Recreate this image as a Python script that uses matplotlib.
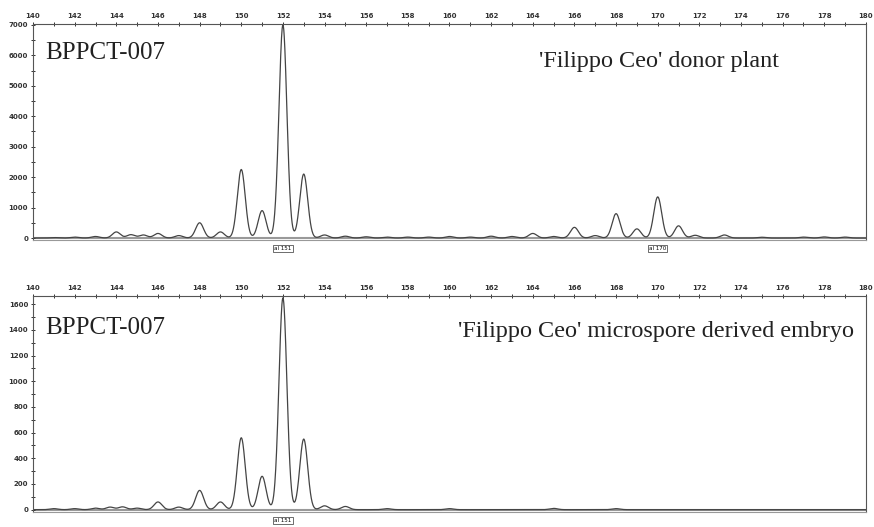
import numpy as np
import matplotlib.pyplot as plt
from matplotlib.ticker import MultipleLocator

# peak positions (bp) and heights (RFU)
donor_pos = [141.0, 142.0, 143.0, 144.0, 144.7, 145.3, 146.0, 147.0, 148.0, 149.0,
             150.0, 151.0, 152.0, 153.0, 154.0, 155.0, 156.0, 157.0, 158.0, 159.0,
             160.0, 161.0, 162.0, 163.0, 164.0, 165.0, 166.0, 167.0, 168.0, 169.0,
             170.0, 171.0, 171.8, 173.2, 175.0, 177.0, 178.0, 179.0]
donor_h = [15, 30, 50, 200, 110, 100, 150, 80, 500, 200,
           2250, 900, 7000, 2100, 100, 60, 40, 30, 30, 30,
           50, 30, 60, 50, 150, 50, 350, 80, 800, 300,
           1350, 400, 90, 100, 25, 30, 35, 30]

embryo_pos = [141.0, 142.0, 143.0, 143.7, 144.3, 145.0, 146.0, 147.0, 148.0, 149.0,
              150.0, 151.0, 152.0, 153.0, 154.0, 155.0, 157.0, 160.0, 165.0, 168.0]
embryo_h = [8, 8, 12, 20, 22, 12, 60, 20, 150, 60,
            560, 260, 1650, 550, 30, 25, 8, 8, 10, 8]

allele_donor = [152, 170]
allele_embryo = [152]

x = np.linspace(140, 180, 4000)


def trace(pos, h, w=0.19):
    y = np.zeros_like(x)
    for p, a in zip(pos, h):
        y += a * np.exp(-0.5 * ((x - p) / w) ** 2)
    return y


fig = plt.figure(figsize=(8.74, 5.27), dpi=100)

panels = [
    (0.5446, donor_pos, donor_h, (-65, 7030), 1000, 500, allele_donor,
     "'Filippo Ceo' donor plant", 0.608, 0.866, 0.824),
    (0.0285, embryo_pos, embryo_h, (-18, 1665), 200, 100, allele_embryo,
     "'Filippo Ceo' microspore derived embryo", 0.51, 0.85, 0.833),
]

for bottom, pos, h, ylim, major, minor, alleles, label, lx, ty, ly in panels:
    ax = fig.add_axes([0.0378, bottom, 0.953, 0.41])
    ax.plot(x, trace(pos, h), color='#444444', lw=0.9)
    ax.axhline(0, color='#999999', lw=1.5, zorder=0)
    ax.set_xlim(140, 180)
    ax.set_ylim(*ylim)
    ax.xaxis.tick_top()
    ax.xaxis.set_major_locator(MultipleLocator(2))
    ax.xaxis.set_minor_locator(MultipleLocator(1))
    ax.yaxis.set_major_locator(MultipleLocator(major))
    ax.yaxis.set_minor_locator(MultipleLocator(minor))
    ax.tick_params(which='both', direction='inout', length=3, width=0.7,
                   labelsize=5, pad=2, colors='#333333')
    for t in ax.get_xticklabels() + ax.get_yticklabels():
        t.set_fontweight('bold')
    for s in ax.spines.values():
        s.set_color('#555555')
        s.set_linewidth(0.8)
    ax.spines['bottom'].set_color('#999999')

    ax.text(0.015, ty, 'BPPCT-007', transform=ax.transAxes, fontsize=18,
            family='Liberation Serif', va='center', ha='left', color='#222222')
    ax.text(lx, ly, label, transform=ax.transAxes, fontsize=17.4,
            family='Liberation Serif', va='center', ha='left', color='#222222')

    for a in alleles:
        ax.annotate('al %d' % (151 if a == 152 else a), xy=(a, 0),
                    xycoords=('data', 'axes fraction'), xytext=(0, -6),
                    textcoords='offset points', ha='center', va='center',
                    fontsize=4, annotation_clip=False,
                    bbox=dict(boxstyle='square,pad=0.2', fc='white',
                              ec='#333333', lw=0.5))

fig.savefig('out.png', dpi=100)
